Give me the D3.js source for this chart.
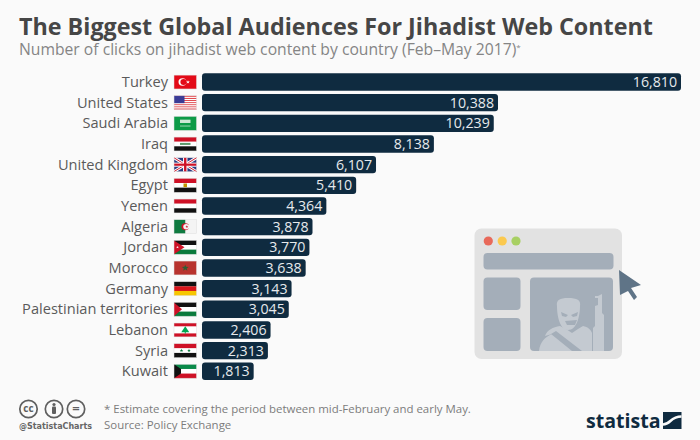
<!DOCTYPE html>
<html><head><meta charset="utf-8">
<script src="https://cdn.jsdelivr.net/npm/d3@7"></script>
<style>html,body{margin:0;padding:0;background:#fafafa}svg{display:block}text{font-family:"Open Sans",sans-serif}</style>
</head><body><svg id="c" width="700" height="440"></svg>
<script>
const countries=["Turkey","United States","Saudi Arabia","Iraq","United Kingdom","Egypt","Yemen","Algeria","Jordan","Morocco","Germany","Palestinian territories","Lebanon","Syria","Kuwait"];
const clicks=[16810,10388,10239,8138,6107,5410,4364,3878,3770,3638,3143,3045,2406,2313,1813];
const titleText="The Biggest Global Audiences For Jihadist Web Content";
const subtitleText="Number of clicks on jihadist web content by country (Feb–May 2017)";
const noteText="* Estimate covering the period between mid-February and early May.";
const sourceText="Source: Policy Exchange";

const svg=d3.select("#c");
svg.append("rect").attr("width",700).attr("height",440).attr("fill","#fafafa");
svg.append("text").attr("x",19).attr("y",34.5).attr("font-size",23.3).attr("font-weight",700).attr("fill","#464646").text(titleText);
const sub=svg.append("text").attr("x",19).attr("y",54.5).attr("font-size",15.7).attr("fill","#858585").text(subtitleText);
sub.append("tspan").attr("font-size",8).attr("dy",-5).text("*");

const x=d3.scaleLinear().domain([0,16810]).range([202,681]);
const y=d3.scaleBand().domain(countries).range([71.7,381.6]).paddingInner(0.16).paddingOuter(0.08);
const fmt=d3.format(",");
const rows=svg.selectAll("g.row").data(countries.map((c,i)=>({c,v:clicks[i]}))).join("g").attr("class","row");
rows.append("rect").attr("x",x(0)).attr("y",d=>y(d.c)).attr("width",d=>x(d.v)-x(0)).attr("height",y.bandwidth()).attr("rx",3).attr("fill","#0f2b40");
rows.append("text").attr("x",d=>x(d.v)-4).attr("y",d=>y(d.c)+y.bandwidth()/2+5).attr("text-anchor","end").attr("font-size",14.2).attr("fill","#e6e9ec").text(d=>fmt(d.v));
rows.append("text").attr("x",168).attr("y",d=>y(d.c)+y.bandwidth()/2+5).attr("text-anchor","end").attr("font-size",14.6).attr("fill","#5a5a5a").text(d=>d.c);

// flags, drawn in a local 22.5 x 15 box and squeezed to the reference height
const W=22.5,H=15,flagScale=0.92;
function stripes(g,cols){const h=H/cols.length;cols.forEach((c,i)=>g.append("rect").attr("y",i*h).attr("width",W).attr("height",h+.1).attr("fill",c));}
function star(g,cx,cy,r,c){const p=d3.range(10).map(i=>{const a=-Math.PI/2+i*Math.PI/5,q=i%2?r*.42:r;return[cx+q*Math.cos(a),cy+q*Math.sin(a)]});g.append("polygon").attr("points",p.join(" ")).attr("fill",c);}
const R="#ce1126",K="#111",Wh="#fff";
const flags={
"Turkey":g=>{stripes(g,["#e30a17"]);g.append("circle").attr("cx",8.5).attr("cy",7.5).attr("r",4).attr("fill",Wh);g.append("circle").attr("cx",9.6).attr("cy",7.5).attr("r",3.2).attr("fill","#e30a17");star(g,14,7.5,2,Wh);},
"United States":g=>{stripes(g,d3.range(13).map(i=>i%2?"#fff":"#e0474c"));g.append("rect").attr("width",10.5).attr("height",8).attr("fill","#3b3b95");},
"Saudi Arabia":g=>{stripes(g,["#0d9b47"]);g.append("rect").attr("x",6).attr("y",3.5).attr("width",10.5).attr("height",3.6).attr("fill","#cfe8d6");g.append("rect").attr("x",6).attr("y",10).attr("width",10.5).attr("height",.8).attr("fill","#cfe8d6");},
"Iraq":g=>{stripes(g,[R,Wh,K]);g.append("rect").attr("x",6).attr("y",6.3).attr("width",10.5).attr("height",2.2).attr("fill","#5c9a6c");},
"United Kingdom":g=>{stripes(g,["#2b3a80"]);[[0,0,W,H],[W,0,0,H]].forEach(l=>{g.append("line").attr("x1",l[0]).attr("y1",l[1]).attr("x2",l[2]).attr("y2",l[3]).attr("stroke",Wh).attr("stroke-width",3);g.append("line").attr("x1",l[0]).attr("y1",l[1]).attr("x2",l[2]).attr("y2",l[3]).attr("stroke",R).attr("stroke-width",1);});g.append("rect").attr("x",W/2-2.2).attr("width",4.4).attr("height",H).attr("fill",Wh);g.append("rect").attr("y",H/2-2.2).attr("width",W).attr("height",4.4).attr("fill",Wh);g.append("rect").attr("x",W/2-1.2).attr("width",2.4).attr("height",H).attr("fill",R);g.append("rect").attr("y",H/2-1.2).attr("width",W).attr("height",2.4).attr("fill",R);},
"Egypt":g=>{stripes(g,[R,Wh,K]);g.append("rect").attr("x",9.5).attr("y",5.5).attr("width",3.5).attr("height",4).attr("fill","#c09300");},
"Yemen":g=>stripes(g,[R,Wh,K]),
"Algeria":g=>{stripes(g,["#f4f4f4"]);g.append("rect").attr("width",W/2).attr("height",H).attr("fill","#0f7a40");g.append("circle").attr("cx",W/2).attr("cy",7.5).attr("r",3.8).attr("fill",R);g.append("circle").attr("cx",W/2+1).attr("cy",7.5).attr("r",3).attr("fill","#f4f4f4");star(g,W/2+1.6,7.5,1.6,R);},
"Jordan":g=>{stripes(g,[K,Wh,"#0a7a3c"]);g.append("polygon").attr("points",`0,0 10.5,7.5 0,15`).attr("fill",R);star(g,3.5,7.5,1.4,Wh);},
"Morocco":g=>{stripes(g,["#b8332e"]);star(g,W/2,7.5,3.6,"#2d5f34");},
"Germany":g=>stripes(g,[K,"#d8141a","#f7c600"]),
"Palestinian territories":g=>{stripes(g,[K,Wh,"#0a7a3c"]);g.append("polygon").attr("points",`0,0 8,7.5 0,15`).attr("fill",R);},
"Lebanon":g=>{stripes(g,[R,Wh,Wh,R]);g.append("polygon").attr("points",`${W/2},3.6 ${W/2+4},10 ${W/2-4},10`).attr("fill","#00a651");g.append("rect").attr("x",W/2-.5).attr("y",9.5).attr("width",1).attr("height",2).attr("fill","#00a651");},
"Syria":g=>{stripes(g,[R,Wh,K]);star(g,7.5,7.5,1.9,"#0a7a3c");star(g,15,7.5,1.9,"#0a7a3c");},
"Kuwait":g=>{stripes(g,["#0a8a4a",Wh,R]);g.append("polygon").attr("points",`0,0 7,5 7,10 0,15`).attr("fill",K);}
};
rows.each(function(d){const g=d3.select(this).append("g").attr("transform",`translate(174,${y(d.c)+y.bandwidth()/2-H*flagScale/2}) scale(1,${flagScale})`);flags[d.c](g);g.append("rect").attr("width",W).attr("height",H).attr("fill","none").attr("stroke","#ddd").attr("stroke-width",.5);});

// browser illustration
const ill=svg.append("g");
const rr=(x0,y0,w,h,r,c)=>ill.append("rect").attr("x",x0).attr("y",y0).attr("width",w).attr("height",h).attr("rx",r).attr("fill",c);
const panel="#a4aeb9",soldier="#c4cad1";
rr(474.5,228.5,147.5,130.5,7,"#e2e2e2");
[[488.3,"#e8695a"],[502.2,"#fbc94f"],[516,"#a8d063"]].forEach(d=>ill.append("circle").attr("cx",d[0]).attr("cy",241).attr("r",4.6).attr("fill",d[1]));
rr(483.5,253,130,16.5,4,panel);
rr(483.5,277.5,37,32.5,4,panel);
rr(483.5,318,37,33,4,panel);
rr(530,277.5,83,73.5,4,panel);
// figure
ill.append("path").attr("fill",soldier).attr("d","M539,351 C540,342 545,337 552,334 L545,336 C547,330 553,327 560,326 L566,329 L572,333 L578,329 L583,326 C588,327 591,330 592,333 L592,351 Z");
ill.append("path").attr("fill",soldier).attr("d","M557,306 C556,300 560,298 568,298 C577,298 581,300 580,306 C580,316 577,330 568,330 C560,330 557,316 557,306 Z");
ill.append("path").attr("fill",panel).attr("d","M551,334 L556,331 L582,351 L572,351 Z");
ill.append("path").attr("fill",panel).attr("d","M565,321 L577,320 L575,325 L567,325 Z");
ill.append("path").attr("fill",panel).attr("d","M561,312 L568,315 L566,317 L562,316 Z M578,312 L571,315 L573,317 L577,316 Z");
ill.append("path").attr("fill",soldier).attr("d","M593,351 L593,328 L595,326 L595,306 L598,305 L598,298 L595,298 L595,296 L598,296 L602,294 L602,313 L604,315 L604,351 Z");
// cursor
ill.append("path").attr("fill","#5f7487").attr("d","M619,270 L641,285 L631,288 L637,297 L634,300 L628,291 L620,295 Z");

// footer
const cc=svg.append("g");
[[28.5,"cc"],[54,""],[76,"="]].forEach(d=>{cc.append("circle").attr("cx",d[0]).attr("cy",409).attr("r",8.7).attr("fill","none").attr("stroke","#5f5f5f").attr("stroke-width",1.7);
 if(d[1])cc.append("text").attr("x",d[0]).attr("y",d[1]=="cc"?412:413).attr("text-anchor","middle").attr("font-size",d[1]=="cc"?10:13).attr("font-weight",700).attr("fill","#5f5f5f").text(d[1]);});
cc.append("circle").attr("cx",54).attr("cy",404.5).attr("r",1.6).attr("fill","#5f5f5f");
cc.append("rect").attr("x",52).attr("y",406.5).attr("width",4).attr("height",7.5).attr("rx",1).attr("fill","#5f5f5f");
svg.append("text").attr("x",19).attr("y",429).attr("font-size",8).attr("font-weight",700).attr("fill","#666").style("font-family","'DejaVu Sans'").text("@StatistaCharts");
svg.append("text").attr("x",104).attr("y",413).attr("font-size",11.45).attr("fill","#7c7c7c").text(noteText);
svg.append("text").attr("x",104).attr("y",429).attr("font-size",11.45).attr("fill","#7c7c7c").text(sourceText);
svg.append("text").attr("x",586).attr("y",428).attr("font-size",19.6).attr("font-weight",700).attr("fill","#0f2b40").text("statista");
const lg=svg.append("g");
lg.append("rect").attr("x",663).attr("y",412).attr("width",18.5).attr("height",17).attr("fill","#0f2b40");
lg.append("path").attr("d","M663,424.5 C671,424.5 670,416.5 681.5,416.5").attr("fill","none").attr("stroke","#fafafa").attr("stroke-width",2.6);
</script></body></html>
